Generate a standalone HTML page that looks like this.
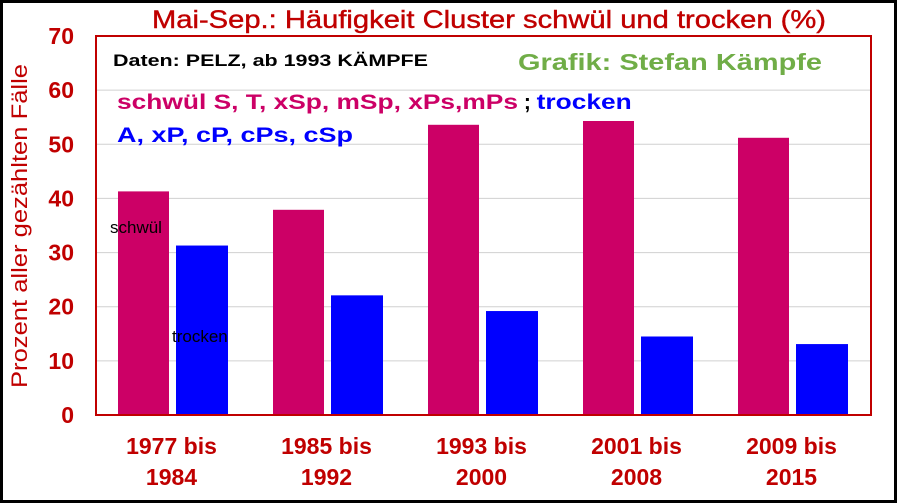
<!DOCTYPE html>
<html><head><meta charset="utf-8"><style>
html,body{margin:0;padding:0;background:#fff}
svg{display:block;font-family:"Liberation Sans",Arial,sans-serif}
</style></head><body>
<svg id="c" width="898" height="504" xmlns="http://www.w3.org/2000/svg">
<rect x="1.5" y="1.5" width="894" height="500" fill="#fff" stroke="#000" stroke-width="3"/>
<text x="152" y="28" font-size="25" fill="#c00000" textLength="674" lengthAdjust="spacingAndGlyphs" stroke="#c00000" stroke-width="0.4">Mai-Sep.: Häufigkeit Cluster schwül und trocken (%)</text>
<g id="grid"></g>
<g id="bars"></g>
<rect x="96" y="36" width="775" height="379" fill="none" stroke="#c00000" stroke-width="2"/>
<g id="yt"></g><g id="xt"></g>
<text transform="translate(27,226) rotate(-90)" font-size="22" fill="#c00000" text-anchor="middle" textLength="324" lengthAdjust="spacingAndGlyphs">Prozent aller gezählten Fälle</text>
<text x="113" y="66" font-size="17" font-weight="bold" fill="#000" textLength="315" lengthAdjust="spacingAndGlyphs">Daten: PELZ, ab 1993 KÄMPFE</text>
<text x="518" y="70" font-size="23" font-weight="bold" fill="#70ad47" textLength="304" lengthAdjust="spacingAndGlyphs">Grafik: Stefan Kämpfe</text>
<text x="117" y="109" font-size="21" font-weight="bold"><tspan fill="#cc0066" textLength="401" lengthAdjust="spacingAndGlyphs">schwül S, T, xSp, mSp, xPs,mPs</tspan><tspan fill="#000"> ; </tspan><tspan fill="#0000ff" textLength="95" lengthAdjust="spacingAndGlyphs">trocken</tspan></text>
<text x="117" y="142" font-size="21" font-weight="bold" fill="#0000ff" textLength="236" lengthAdjust="spacingAndGlyphs">A, xP, cP, cPs, cSp</text>
<text x="110" y="233" font-size="17" fill="#000">schwül</text>
<text x="172" y="342" font-size="17" fill="#000">trocken</text>
</svg>
<script>
const categories=[["1977 bis","1984"],["1985 bis","1992"],["1993 bis","2000"],["2001 bis","2008"],["2009 bis","2015"]];
const schwuel=[41.3,37.9,53.6,54.3,51.2];
const trocken=[31.3,22.1,19.2,14.5,13.1];
const yTicks=[0,10,20,30,40,50,60,70];
const NS="http://www.w3.org/2000/svg";
const x0=96,pw=775,y0=415,ph=379,ymax=70;
const y=v=>y0-v/ymax*ph;
const gw=pw/categories.length;
function mk(t,a,p){const e=document.createElementNS(NS,t);for(const k in a)e.setAttribute(k,a[k]);p.appendChild(e);return e;}
const grid=document.getElementById('grid'),bars=document.getElementById('bars'),yt=document.getElementById('yt'),xt=document.getElementById('xt');
yTicks.forEach(v=>{
 if(v>0&&v<ymax){const l=mk('line',{x1:x0,x2:x0+pw,y1:y(v),y2:y(v),stroke:'#d0d0d0','stroke-width':1},grid);
 
 }
 const t=mk('text',{x:74,y:y(v)+8,'font-size':23,'font-weight':'bold',fill:'#c00000','text-anchor':'end'},yt);
 t.textContent=v;
 
 
});
categories.forEach((c,i)=>{
 const gx=x0+i*gw;
 const b1=mk('rect',{x:gx+22,y:y(schwuel[i]),width:51,height:y0-y(schwuel[i]),fill:'#cc0066'},bars);
 
 
 const b2=mk('rect',{x:gx+80,y:y(trocken[i]),width:52,height:y0-y(trocken[i]),fill:'#0000ff'},bars);
 
 
 c.forEach((s,j)=>{
  const t=mk('text',{x:gx+gw/2-2,y:454+j*31,'font-size':23,'font-weight':'bold',fill:'#c00000','text-anchor':'middle'},xt);
  t.textContent=s;
  
  
 });
});
</script>
</body></html>
